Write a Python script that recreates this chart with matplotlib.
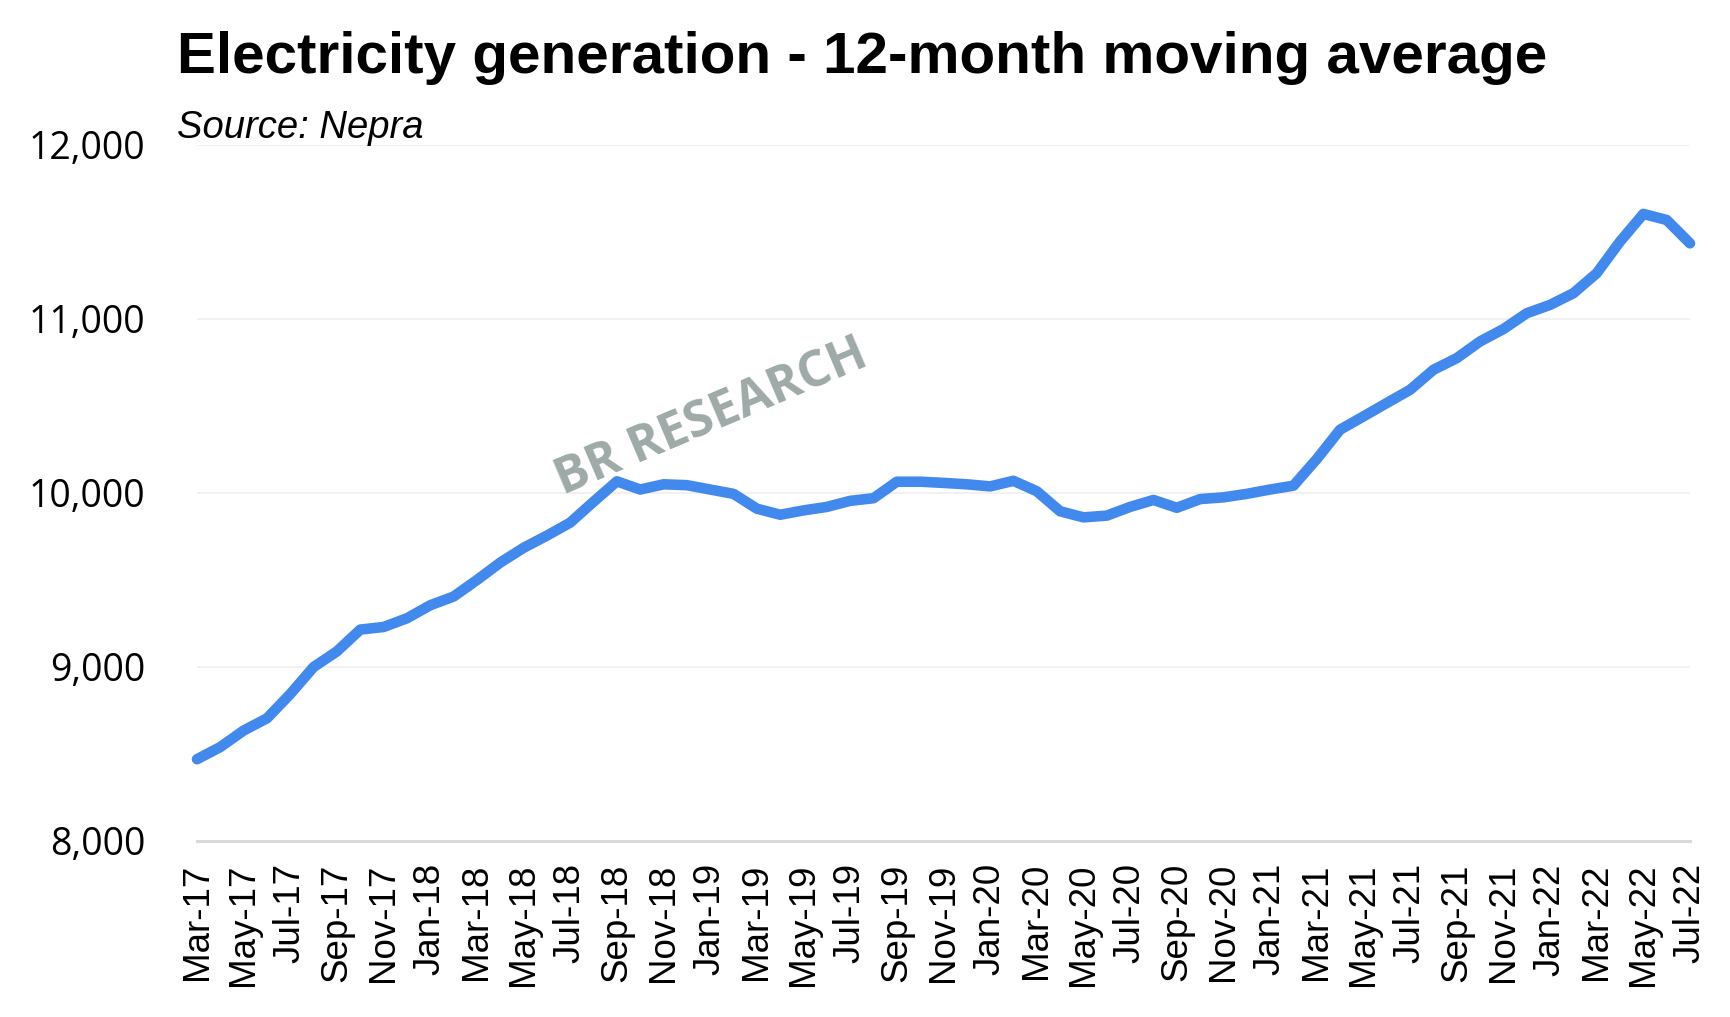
import matplotlib
matplotlib.use("Agg")
import matplotlib.pyplot as plt
from matplotlib.ticker import FuncFormatter

months = [
    "Mar-17", "Apr-17", "May-17", "Jun-17", "Jul-17", "Aug-17", "Sep-17", "Oct-17", "Nov-17", "Dec-17",
    "Jan-18", "Feb-18", "Mar-18", "Apr-18", "May-18", "Jun-18", "Jul-18", "Aug-18", "Sep-18", "Oct-18", "Nov-18", "Dec-18",
    "Jan-19", "Feb-19", "Mar-19", "Apr-19", "May-19", "Jun-19", "Jul-19", "Aug-19", "Sep-19", "Oct-19", "Nov-19", "Dec-19",
    "Jan-20", "Feb-20", "Mar-20", "Apr-20", "May-20", "Jun-20", "Jul-20", "Aug-20", "Sep-20", "Oct-20", "Nov-20", "Dec-20",
    "Jan-21", "Feb-21", "Mar-21", "Apr-21", "May-21", "Jun-21", "Jul-21", "Aug-21", "Sep-21", "Oct-21", "Nov-21", "Dec-21",
    "Jan-22", "Feb-22", "Mar-22", "Apr-22", "May-22", "Jun-22", "Jul-22",
]

generation = [
    8470, 8540, 8635, 8705, 8845, 9000, 9090, 9215, 9230, 9280,
    9355, 9405, 9500, 9600, 9685, 9755, 9830, 9950, 10067, 10020, 10050, 10045,
    10020, 9995, 9910, 9875, 9900, 9920, 9955, 9970, 10065, 10065, 10058, 10050,
    10038, 10070, 10010, 9895, 9860, 9870, 9920, 9960, 9915, 9965, 9975, 9995,
    10020, 10042, 10195, 10364, 10440, 10517, 10593, 10708, 10775, 10871, 10942, 11033,
    11081, 11148, 11263, 11445, 11604, 11569, 11435,
]

y_ticks = [8000, 9000, 10000, 11000, 12000]

title_text = "Electricity generation - 12-month moving average"
source_text = "Source: Nepra"
watermark_text = "BR RESEARCH"

W, H = 1730, 1017
fig = plt.figure(figsize=(W / 100, H / 100), dpi=100)
ax = fig.add_axes([197 / W, 1 - 841 / H, (1690 - 197) / W, (841 - 145) / H])

x = list(range(len(months)))
ax.plot(x, generation, color="#4289ee", linewidth=7.6, solid_joinstyle="round",
        solid_capstyle="round", zorder=3, clip_on=False)

ax.set_xlim(0, len(months) - 1)
ax.set_ylim(8000, 12000)
ax.set_yticks(y_ticks)
ax.yaxis.set_major_formatter(FuncFormatter(lambda v, p: f"{int(v):,}"))
ax.set_xticks(x[::2])
ax.set_xticklabels(months[::2], rotation=90, family=["Liberation Sans", "DejaVu Sans"],
                   fontsize=26.5, va="top", ha="center")
for lab in ax.get_yticklabels():
    lab.set_family(["Open Sans", "DejaVu Sans"])
    lab.set_fontsize(27)

ax.tick_params(axis="y", length=0, pad=37)
ax.tick_params(axis="x", length=0, pad=16)

ax.grid(axis="y", color="#f0f0f0", linewidth=1.3, zorder=0)
ax.set_axisbelow(True)
for s in ["top", "right", "left"]:
    ax.spines[s].set_visible(False)
ax.spines["bottom"].set_color("#d9d9d9")
ax.spines["bottom"].set_linewidth(2.2)
ax.spines["bottom"].set_zorder(2)

# watermark
fig.text(712 / W, 1 - 418 / H, watermark_text, rotation=23, ha="center", va="center",
         fontsize=36, fontweight="bold", color="#9eaaa8",
         family=["Open Sans", "DejaVu Sans"], zorder=1, rotation_mode="anchor")

fig.text(177 / W, 1 - 73 / H, title_text, ha="left", va="baseline", fontsize=42,
         fontweight="bold", family=["Liberation Sans", "DejaVu Sans"], color="black")
fig.text(177 / W, 1 - 138 / H, source_text, ha="left", va="baseline", fontsize=27.5,
         style="italic", family=["Liberation Sans", "DejaVu Sans"], color="black")

fig.savefig("out.png", dpi=100, facecolor="white")
